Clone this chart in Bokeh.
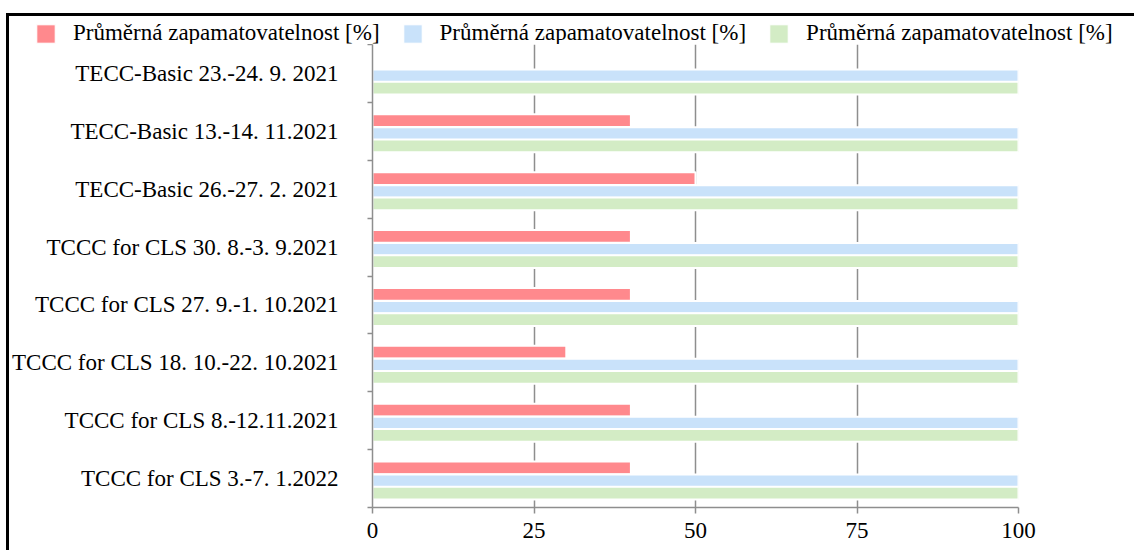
import numpy as np
from bokeh.plotting import figure
from bokeh.layouts import column
from bokeh.models import (Range1d, FixedTicker, Legend, LegendItem, ColumnDataSource)
from bokeh.embed import file_html
from bokeh.resources import INLINE

# ---- data (top to bottom) ----
categories = [
    "TECC-Basic 23.-24. 9. 2021",
    "TECC-Basic 13.-14. 11.2021",
    "TECC-Basic 26.-27. 2. 2021",
    "TCCC for CLS 30. 8.-3. 9.2021",
    "TCCC for CLS 27. 9.-1. 10.2021",
    "TCCC for CLS 18. 10.-22. 10.2021",
    "TCCC for CLS 8.-12.11.2021",
    "TCCC for CLS 3.-7. 1.2022",
]
series_names = ["Průměrná zapamatovatelnost [%]"] * 3
red_values = [None, 40, 50, 40, 40, 30, 40, 40]
blue_values = [100, 100, 100, 100, 100, 100, 100, 100]
green_values = [100, 100, 100, 100, 100, 100, 100, 100]
x_ticks = [0, 25, 50, 75, 100]

colors = ["#FF898D", "#C9E2FA", "#D3ECC5"]
offsets = [0.184, -0.04, -0.253]
bar_h = 0.22

n = len(categories)
centers = np.array([n - 1 - i + 0.5 for i in range(n)])

FONT = "Liberation Serif"
W = 1125
LEG_H = 28

# ---- main chart ----
p = figure(width=W, height=534 - LEG_H, output_backend="svg", toolbar_location=None,
           x_range=Range1d(0, 100), y_range=Range1d(0, n),
           min_border_left=363, min_border_right=116, min_border_top=0,
           min_border_bottom=43)
p.outline_line_color = None
p.background_fill_color = "white"
p.border_fill_color = "white"

sources = []
renderers = []
for vals, col, off in zip([red_values, blue_values, green_values], colors, offsets):
    v = np.array([np.nan if x is None else x for x in vals], dtype=float)
    src = ColumnDataSource(dict(y=centers + off, right=v))
    sources.append(src)
    r = p.hbar(y="y", left=0, right="right", height=bar_h, source=src,
               fill_color=col, line_color="white", line_width=2)
    renderers.append(r)

xa = p.xaxis[0]
xa.ticker = FixedTicker(ticks=x_ticks)
xa.axis_line_color = "#8E8E8E"
xa.axis_line_width = 1.5
xa.major_tick_line_color = "#8E8E8E"
xa.major_tick_line_width = 1.5
xa.major_tick_out = 6
xa.major_tick_in = 0
xa.minor_tick_line_color = None
xa.major_label_text_font = FONT
xa.major_label_text_font_size = "23px"
xa.major_label_text_color = "black"
xa.major_label_standoff = 9

ya = p.yaxis[0]
ya.ticker = FixedTicker(ticks=list(centers), minor_ticks=list(range(0, n + 1)))
ya.major_label_overrides = {float(c): lab for c, lab in zip(centers, categories)}
ya.axis_line_color = "#8E8E8E"
ya.axis_line_width = 1.5
ya.major_tick_line_color = None
ya.major_tick_out = 0
ya.major_tick_in = 0
ya.minor_tick_line_color = "#8E8E8E"
ya.minor_tick_line_width = 1.5
ya.minor_tick_out = 5
ya.minor_tick_in = 0
ya.major_label_text_font = FONT
ya.major_label_text_font_size = "23px"
ya.major_label_text_color = "black"
ya.major_label_standoff = 29

p.ygrid.visible = False
p.xgrid.ticker = FixedTicker(ticks=x_ticks)
p.xgrid.grid_line_color = "#8E8E8E"
p.xgrid.grid_line_width = 1.5
p.xgrid.level = "underlay"

# ---- legend strip (same sources, viewed outside their range so only the legend shows) ----
lf = figure(width=W, height=LEG_H, output_backend="svg", toolbar_location=None,
            x_range=Range1d(-1000, -999), y_range=Range1d(-1000, -999),
            x_axis_type=None, y_axis_type=None,
            min_border_left=0, min_border_right=0, min_border_top=0, min_border_bottom=0)
lf.frame_align = False
lf.outline_line_color = None
lf.grid.visible = False
lf.border_fill_color = "white"
lf.background_fill_color = "white"
leg_r = []
for src, col in zip(sources, colors):
    leg_r.append(lf.hbar(y="y", left=0, right="right", height=bar_h, source=src,
                         fill_color=col, line_color="white", line_width=1))

legend = Legend(items=[LegendItem(label=nm, renderers=[r]) for nm, r in zip(series_names, leg_r)],
                orientation="horizontal", location=(25, -2),
                label_text_font=FONT, label_text_font_size="23px", label_text_color="black",
                glyph_width=23, glyph_height=23, label_standoff=16, spacing=21,
                padding=0, margin=0, border_line_color=None, background_fill_alpha=0)
lf.add_layout(legend, "center")

layout = column(lf, p, spacing=0)
layout.margin = (13, 0, 0, 6)
layout.styles = {"border-top": "3px solid black", "border-left": "3px solid black"}

open("out.html", "w").write(file_html(layout, INLINE))
